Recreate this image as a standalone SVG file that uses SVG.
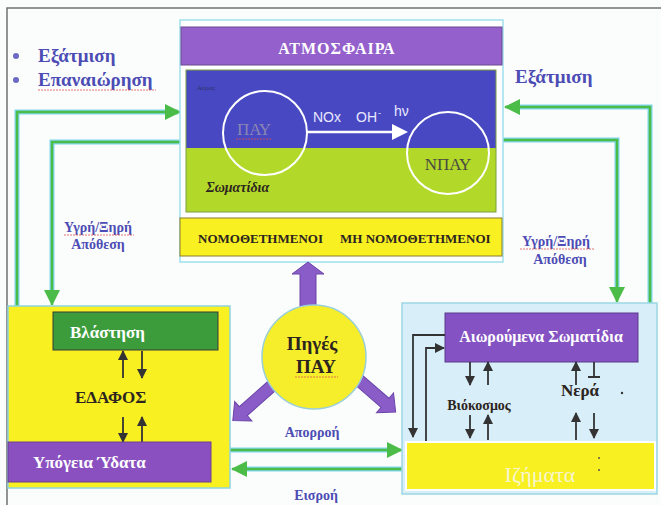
<svg xmlns="http://www.w3.org/2000/svg" width="661" height="505" viewBox="0 0 661 505">
<defs>
<style>
.serif{font-family:"Liberation Serif","DejaVu Serif",serif;font-weight:bold}
.sans{font-family:"Liberation Sans","DejaVu Sans",sans-serif}
.blue{fill:#4c4cb4}
.dark{fill:#2c2420}
.wt{fill:#ffffff}
.gedge{fill:none;stroke:#7fd6ea;stroke-width:5}
.gline{fill:none;stroke:#4cbc48;stroke-width:2.5}
.darr{fill:none;stroke:#333;stroke-width:1.8}
.parr{fill:#8a5cc8;stroke:#6a44a8;stroke-width:1}
.squig{fill:none;stroke:#e05050;stroke-width:0.8;stroke-dasharray:2 1}
</style>
<marker id="gh" markerUnits="userSpaceOnUse" markerWidth="18" markerHeight="16" refX="15" refY="8" orient="auto">
<path d="M0,0 L16,8 L0,16 Z" fill="#4cbc48"/>
</marker>
<marker id="dh" markerUnits="userSpaceOnUse" markerWidth="10" markerHeight="10" refX="9" refY="5" orient="auto">
<path d="M0,0 L10,5 L0,10 Z" fill="#333"/>
</marker>
</defs>
<rect width="661" height="505" fill="#fbfdfd"/>
<path d="M7,505 V8 H661" fill="none" stroke="#707070" stroke-width="1.5"/>

<!-- left texts -->
<g id="legend">
<circle cx="16" cy="56" r="3" fill="#6a6ac0"/>
<circle cx="16" cy="80" r="3" fill="#6a6ac0"/>
<text class="serif blue" x="38" y="62" font-size="19">Εξάτμιση</text>
<text class="serif blue" x="38" y="86" font-size="19">Επαναιώρηση</text>
<path class="squig" d="M38,90 H156"/>
<text class="serif blue" x="515" y="83" font-size="19">Εξάτμιση</text>
</g>

<!-- connectors -->
<g id="connectors">
<path class="gedge" d="M17,306 V112 H178"/>
<path class="gline" d="M17,306 V112 H180" marker-end="url(#gh)"/>
<path class="gedge" d="M180,142 H52 V290"/>
<path class="gline" d="M180,142 H52 V305" marker-end="url(#gh)"/>
<path class="gedge" d="M650,303 V107 H520"/>
<path class="gline" d="M650,303 V107 H505" marker-end="url(#gh)"/>
<path class="gedge" d="M503,140 H617 V288"/>
<path class="gline" d="M503,140 H617 V302" marker-end="url(#gh)"/>
<path class="gedge" d="M230,450 H388"/>
<path class="gline" d="M230,450 H402" marker-end="url(#gh)"/>
<path class="gedge" d="M403,469 H246"/>
<path class="gline" d="M403,469 H232" marker-end="url(#gh)"/>
<text class="serif blue" x="98" y="232" font-size="14" text-anchor="middle">Υγρή/Ξηρή</text>
<path class="squig" d="M64,235 H134"/>
<text class="serif blue" x="98" y="249" font-size="14" text-anchor="middle">Απόθεση</text>
<text class="serif blue" x="556" y="246" font-size="14" text-anchor="middle">Υγρή/Ξηρή</text>
<path class="squig" d="M520,249 H594"/>
<text class="serif blue" x="560" y="264" font-size="14" text-anchor="middle">Απόθεση</text>
<text class="serif blue" x="312" y="437" font-size="14" text-anchor="middle">Απορροή</text>
<text class="serif blue" x="316" y="500" font-size="14" text-anchor="middle">Εισροή</text>
</g>

<!-- atmosphere -->
<g id="atmosphere">
<rect x="180" y="20" width="323" height="242" fill="#ffffff" stroke="#9fe0ec" stroke-width="1.5"/>
<rect x="181" y="27" width="321" height="38" fill="#9460cc" stroke="#6a4a90" stroke-width="1"/>
<text class="serif wt" x="337" y="54" font-size="16" text-anchor="middle" letter-spacing="1">ΑΤΜΟΣΦΑΙΡΑ</text>
<rect x="186" y="70" width="310" height="78" fill="#4848c2"/>
<rect x="186" y="148" width="310" height="64" fill="#b2d82a"/>
<rect x="186" y="70" width="310" height="142" fill="none" stroke="#7aa040" stroke-width="1"/>
<text x="197" y="90" font-size="7" fill="#30306a" font-family="Liberation Serif, serif">Αέρας</text>
<text class="serif dark" x="206" y="192" font-size="14" font-style="italic">Σωματίδια</text>
<circle cx="265" cy="133" r="42" fill="none" stroke="#ffffff" stroke-width="2"/>
<circle cx="448" cy="153" r="41" fill="none" stroke="#ffffff" stroke-width="2"/>
<text x="254" y="135" font-size="17" fill="#8a86b4" text-anchor="middle" font-family="Liberation Serif, serif">ΠΑΥ</text>
<path class="squig" d="M236,139 H272"/>
<text x="448" y="170" font-size="17" fill="#4a4a40" text-anchor="middle" font-family="Liberation Serif, serif">ΝΠΑΥ</text>
<path d="M307,132 H393" stroke="#ffffff" stroke-width="2.5"/>
<path d="M392,124 L408,132 L392,140 Z" fill="#ffffff"/>
<text class="sans" x="313" y="122" font-size="14" fill="#e8e8ff">NOx</text>
<text class="sans" x="356" y="122" font-size="14" fill="#e8e8ff">OH</text>
<text class="sans" x="378" y="116" font-size="9" fill="#e8e8ff">-</text>
<text class="sans" x="394" y="116" font-size="14" fill="#e8e8ff">hν</text>
<rect x="180" y="218" width="322" height="38" fill="#f8f020" stroke="#8a7a30" stroke-width="1"/>
<text class="serif dark" x="198" y="243" font-size="13">ΝΟΜΟΘΕΤΗΜΕΝΟΙ</text>
<text class="serif dark" x="340" y="243" font-size="13">ΜΗ ΝΟΜΟΘΕΤΗΜΕΝΟΙ</text>
</g>

<!-- sources -->
<g id="sources">
<g transform="translate(308,308) rotate(-90)"><path class="parr" d="M0,-8 H34 V-16 L46,0 L34,16 V8 H0 Z"/></g>
<g transform="translate(274,384) rotate(138.5)"><path class="parr" d="M0,-6 H41 V-13 L55,0 L41,13 V6 H0 Z"/></g>
<g transform="translate(354,376) rotate(40.8)"><path class="parr" d="M0,-6 H41 V-13 L55,0 L41,13 V6 H0 Z"/></g>
<circle cx="314" cy="357" r="52" fill="#f6ee2a" stroke="#9acfd8" stroke-width="1.5"/>
<text class="serif dark" x="312" y="350" font-size="19" text-anchor="middle">Πηγές</text>
<text class="serif dark" x="316" y="373" font-size="19" text-anchor="middle">ΠΑΥ</text>
<path class="squig" d="M295,377 H338"/>
</g>

<!-- soil -->
<g id="soil">
<rect x="8" y="306" width="222" height="182" fill="#f8f020" stroke="#8fd4e0" stroke-width="1.5"/>
<rect x="53" y="312" width="165" height="38" fill="#3c9c3c" stroke="#3a3a3a" stroke-width="1"/>
<text class="serif wt" x="70" y="338" font-size="17">Βλάστηση</text>
<path class="darr" d="M123,378 V351" marker-end="url(#dh)"/>
<path class="darr" d="M142,351 V378" marker-end="url(#dh)"/>
<text class="serif dark" x="75" y="403" font-size="17">ΕΔΑΦΟΣ</text>
<path class="darr" d="M123,417 V442" marker-end="url(#dh)"/>
<path class="darr" d="M142,442 V417" marker-end="url(#dh)"/>
<rect x="8" y="442" width="203" height="40" fill="#8a50c0" stroke="#6a4090" stroke-width="1"/>
<text class="serif wt" x="33" y="468" font-size="17">Υπόγεια Ύδατα</text>
</g>

<!-- water -->
<g id="water">
<rect x="402" y="303" width="255" height="191" fill="#d8eef8" stroke="#9ad8e4" stroke-width="1.5"/>
<rect x="445" y="313" width="193" height="49" fill="#8452c2" stroke="#5a3a8a" stroke-width="1"/>
<text class="serif wt" x="541" y="342" font-size="16" text-anchor="middle">Αιωρούμενα Σωματίδια</text>
<path class="darr" d="M445,335 H413 V437" marker-end="url(#dh)"/>
<path class="darr" d="M426,442 V348 H444" marker-end="url(#dh)"/>
<path class="darr" d="M470,362 V385" marker-end="url(#dh)"/>
<path class="darr" d="M488,385 V362" marker-end="url(#dh)"/>
<text class="serif dark" x="479" y="410" font-size="14" text-anchor="middle">Βιόκοσμος</text>
<path class="darr" d="M470,415 V438" marker-end="url(#dh)"/>
<path class="darr" d="M488,440 V415" marker-end="url(#dh)"/>
<path class="darr" d="M576,385 V362" marker-end="url(#dh)"/>
<path class="darr" d="M594,362 V377 M588,377 H600"/>
<text class="serif dark" x="580" y="396" font-size="17" text-anchor="middle">Νερά</text>
<circle cx="622" cy="393" r="1.2" fill="#333"/>
<path class="darr" d="M576,440 V413" marker-end="url(#dh)"/>
<path class="darr" d="M594,413 V438" marker-end="url(#dh)"/>
<rect x="406" y="442" width="249" height="48" fill="#f8f020" stroke="#ffffff" stroke-width="2"/>
<text x="540" y="482" font-size="22" fill="#f6f6d0" text-anchor="middle" font-family="Liberation Serif, serif">Ιζήματα</text>
<circle cx="599" cy="458" r="1" fill="#555"/>
<circle cx="599" cy="470" r="1" fill="#555"/>
</g>
</svg>
